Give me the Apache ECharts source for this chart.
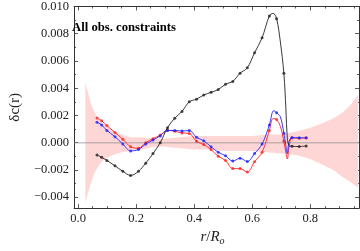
<!DOCTYPE html>
<html><head><meta charset="utf-8">
<script src="https://cdn.jsdelivr.net/npm/echarts@6/dist/echarts.min.js"></script>
<style>html,body{margin:0;padding:0;background:#fff}#c{width:360px;height:251px}</style>
</head><body><div id="c"></div>
<script>
// ---- data ----
const xMajor = [0, 0.2, 0.4, 0.6, 0.8];
const xMinor = [0.05, 0.1, 0.15, 0.25, 0.3, 0.35, 0.45, 0.5, 0.55, 0.65, 0.7, 0.75, 0.85, 0.9, 0.95];
const yMajor = [-0.004, -0.002, 0, 0.002, 0.004, 0.006, 0.008, 0.010];
const yMinor = [-0.003, -0.001, 0.001, 0.003, 0.005, 0.007, 0.009];

const rObs = [0.065, 0.081, 0.099, 0.127, 0.154, 0.181, 0.208, 0.233, 0.258, 0.283, 0.308, 0.333, 0.358, 0.383, 0.408,
              0.433, 0.458, 0.483, 0.508, 0.533, 0.558, 0.583, 0.608, 0.634, 0.659, 0.684, 0.709, 0.737, 0.762, 0.786];

const blackVals = [-0.0009, -0.00107, -0.0013, -0.0017, -0.0021, -0.0024, -0.0021, -0.0015, -0.0008, 0.0000, 0.0011, 0.0018, 0.0023, 0.0030, 0.0032,
                   0.0035, 0.0037, 0.0039, 0.0043, 0.0045, 0.0051, 0.0055, 0.0066, 0.0077, 0.0093, 0.0091, 0.0051, -0.00026, -0.00028, -0.00024];
const redVals = [0.00182, 0.00161, 0.00126, 0.00075, 0.00025, -0.0003, -0.0004, 0.0000, 0.0003, 0.00056, 0.00091, 0.00084, 0.00072, 0.00068, 0.0001,
                 -0.00014, -0.0005, -0.001, -0.0013, -0.0019, -0.0019, -0.00215, -0.0014, -0.0007, 0.0009, 0.0017, 0.0001, 0.00035, 0.00033, 0.00035];
const blueVals = [0.0015, 0.0013, 0.0009, 0.00044, -0.0001, -0.0006, -0.0005, -0.0001, 0.0002, 0.0005, 0.0009, 0.0009, 0.00086, 0.00089, 0.0004,
                  0.00014, -0.0003, -0.0007, -0.00096, -0.00135, -0.00114, -0.00138, -0.0008, -0.0001, 0.0013, 0.0022, 0.0007, 0.00038, 0.00036, 0.00037];

// extra points on the interpolated curves (between markers)
const blackCurveExtra = [[0.672, 0.0095], [0.697, 0.0074], [0.716, 0.0025], [0.721, 0.0003], [0.727, -0.0002]];
const redCurveExtra = [[0.672, 0.00178], [0.697, 0.0012], [0.715, -0.0006], [0.721, -0.0012], [0.727, -0.0003]];
const blueCurveExtra = [[0.674, 0.00235], [0.697, 0.0019], [0.715, -0.0001], [0.721, -0.0008], [0.727, 0.0001]];

// shaded uncertainty band
const bandX = [0.025, 0.035, 0.045, 0.055, 0.065, 0.08, 0.1, 0.12, 0.15, 0.18, 0.22, 0.26, 0.3, 0.35, 0.4, 0.45, 0.5, 0.55, 0.6, 0.65, 0.7, 0.75, 0.8, 0.85, 0.88, 0.91, 0.94, 0.965];
const bandUpper = [0.0045, 0.0036, 0.0028, 0.0023, 0.0019, 0.0015, 0.0012, 0.0009, 0.0006, 0.0004, 0.0004, 0.0003, 0.0003, 0.0004, 0.0005, 0.0005, 0.0005, 0.0005, 0.0005, 0.0006, 0.0006, 0.0008, 0.0011, 0.0015, 0.0018, 0.0022, 0.0028, 0.0035];
const bandLower = [-0.0044, -0.0036, -0.0029, -0.0023, -0.0019, -0.0014, -0.0011, -0.0009, -0.0007, -0.0006, -0.0005, -0.0003, -0.0003, -0.0004, -0.0005, -0.0005, -0.0006, -0.0006, -0.0006, -0.0007, -0.0008, -0.0009, -0.0012, -0.0017, -0.002, -0.0025, -0.0029, -0.0033];

const titleText = 'All obs. constraints';

// ---- build chart ----
const XMIN = -0.014, XMAX = 0.968, YMIN = -0.0048, YMAX = 0.010;
const FONT = '"Liberation Serif", "DejaVu Serif", serif';
const AX = '#333';

function pts(vals) { return rObs.map((x, i) => [x, vals[i]]); }
function curve(vals, extra) { return pts(vals).concat(extra).sort((a, b) => a[0] - b[0]); }
function fmtY(v) { if (Math.abs(v) < 1e-12) return '0.000'; return (v < 0 ? '\u2212' : '') + Math.abs(v).toFixed(3); }

function xAx(pos, ticks, len, line, label, extra) {
  return Object.assign({
    type: 'value', position: pos, min: XMIN, max: XMAX,
    axisLine: { show: line, onZero: false, lineStyle: { color: AX, width: 1 } },
    axisTick: { show: true, inside: true, length: len, customValues: ticks, lineStyle: { color: AX, width: 0.8 } },
    axisLabel: { show: label, customValues: ticks, formatter: v => v.toFixed(1), fontFamily: FONT, fontSize: 12.5, color: '#222', margin: 4 },
    splitLine: { show: false }
  }, extra || {});
}
function yAx(pos, ticks, len, line, label, extra) {
  return Object.assign({
    type: 'value', position: pos, min: YMIN, max: YMAX,
    axisLine: { show: line, onZero: false, lineStyle: { color: AX, width: 1 } },
    axisTick: { show: true, inside: true, length: len, customValues: ticks, lineStyle: { color: AX, width: 0.8 } },
    axisLabel: { show: label, customValues: ticks, formatter: fmtY, fontFamily: FONT, fontSize: 12.5, color: '#222', margin: 5 },
    splitLine: { show: false }
  }, extra || {});
}

const chart = echarts.init(document.getElementById('c'), null, { renderer: 'canvas' });
const lineSeries = (name, color, vals, extra, z) => ([
  { type: 'line', name, data: curve(vals, extra), smooth: 0.35, showSymbol: false, symbol: 'none',
    lineStyle: { color, width: 0.9 }, z, silent: true, animation: false, clip: true },
  { type: 'scatter', name: name + 'pts', data: pts(vals), symbol: 'circle', symbolSize: 3,
    itemStyle: { color }, z: z + 1, silent: true, animation: false }
]);

chart.setOption({
  animation: false,
  title: { text: titleText, left: 72, top: 21, padding: 0,
    textStyle: { fontFamily: FONT, fontWeight: 'bold', fontSize: 12.7, color: '#000' } },
  grid: { left: 59, right: 1, top: 5.5, bottom: 34.5, containLabel: false },
  xAxis: [
    xAx('bottom', xMajor, 4, true, true, {
      name: '{i|r}{n|/}{i|R}{s|o}', nameLocation: 'middle', nameGap: 20,
      nameTextStyle: { padding: [0, 8, 0, 0], rich: {
        i: { fontFamily: FONT, fontStyle: 'italic', fontSize: 15, color: '#222' },
        n: { fontFamily: FONT, fontSize: 15, color: '#222' },
        s: { fontFamily: FONT, fontStyle: 'italic', fontSize: 10, color: '#222', padding: [7, 0, 0, 0] } } } }),
    xAx('bottom', xMinor, 2, false, false),
    xAx('top', xMajor, 4, true, false),
    xAx('top', xMinor, 2, false, false)
  ],
  yAxis: [
    yAx('left', yMajor, 4, true, true, {
      name: '\u03b4c(r)', nameLocation: 'middle', nameGap: 44,
      nameTextStyle: { fontFamily: FONT, fontSize: 15, color: '#222' } }),
    yAx('left', yMinor, 2, false, false),
    yAx('right', yMajor, 4, true, false),
    yAx('right', yMinor, 2, false, false)
  ],
  series: [
    { type: 'custom', data: [[0, 0]], z: 1, silent: true, clip: true,
      renderItem: (params, api) => {
        if (params.dataIndex !== 0) return null;
        const up = bandX.map((x, i) => api.coord([x, bandUpper[i]]));
        const lo = bandX.map((x, i) => api.coord([x, bandLower[i]])).reverse();
        return { type: 'polygon', shape: { points: up.concat(lo) }, style: { fill: '#ffd6d6' } };
      } },
    { type: 'line', data: [[XMIN, 0], [XMAX, 0]], symbol: 'none', z: 2, silent: true,
      lineStyle: { color: 'rgba(140,140,140,0.5)', width: 1.5 } },
    ...lineSeries('red', '#ff2222', redVals, redCurveExtra, 3),
    ...lineSeries('blue', '#2222ff', blueVals, blueCurveExtra, 5),
    ...lineSeries('black', '#222222', blackVals, blackCurveExtra, 7)
  ]
});
</script>
</body></html>
